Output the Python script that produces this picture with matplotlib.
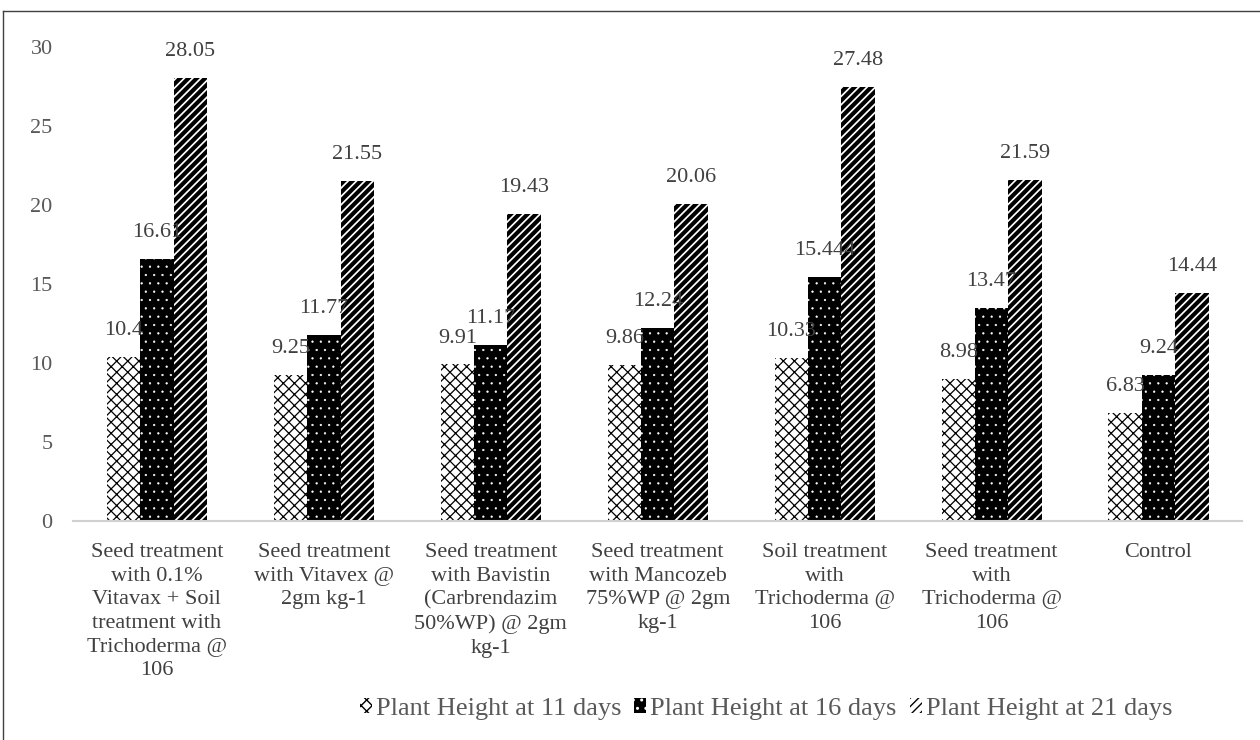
import numpy as np
import matplotlib
matplotlib.use("Agg")
import matplotlib.pyplot as plt
from matplotlib.lines import Line2D

plt.rcParams['font.family'] = ['Liberation Serif', 'DejaVu Serif']

categories = [
    "Seed treatment\nwith 0.1%\nVitavax + Soil\ntreatment with\nTrichoderma @\n106",
    "Seed treatment\nwith Vitavex @\n2gm kg-1",
    "Seed treatment\nwith Bavistin\n(Carbrendazim\n50%WP) @ 2gm\nkg-1",
    "Seed treatment\nwith Mancozeb\n75%WP @ 2gm\nkg-1",
    "Soil treatment\nwith\nTrichoderma @\n106",
    "Seed treatment\nwith\nTrichoderma @\n106",
    "Control",
]
h11 = [10.4, 9.25, 9.91, 9.86, 10.33, 8.98, 6.83]
h16 = [16.61, 11.77, 11.17, 12.24, 15.444, 13.47, 9.24]
h21 = [28.05, 21.55, 19.43, 20.06, 27.48, 21.59, 14.44]
labels11 = ["10.4", "9.25", "9.91", "9.86", "10.33", "8.98", "6.83"]
labels16 = ["16.61", "11.77", "11.17", "12.24", "15.444", "13.47", "9.24"]
labels21 = ["28.05", "21.55", "19.43", "20.06", "27.48", "21.59", "14.44"]
series_names = ["Plant Height at 11 days", "Plant Height at 16 days", "Plant Height at 21 days"]

fig = plt.figure(figsize=(12.6, 7.4), dpi=100)
ax = fig.add_axes([0.0583, 0.2959, 0.9274, 0.6406])

x = np.arange(len(categories))
w = 0.2
txt = '#404040'


def hbar(xs, ys, hatch, fc, ec, lw):
    with plt.rc_context({'hatch.linewidth': lw, 'hatch.color': ec}):
        bars = ax.bar(xs, ys, w, color=fc, edgecolor=ec, linewidth=0, hatch=hatch)
    for b in bars:
        if hasattr(b, 'set_hatch_linewidth'):
            b.set_hatch_linewidth(lw)
    return bars


b1 = hbar(x - w, h11, 'xxx', 'white', 'black', 0.9)
b2 = hbar(x, h16, '..', 'black', 'white', 0.4)
b3 = hbar(x + w, h21, '////', 'white', 'black', 3.0)

for bars, labs in [(b1, labels11), (b2, labels16), (b3, labels21)]:
    for b, lab in zip(bars, labs):
        ax.annotate(lab, (b.get_x() + b.get_width() / 2, b.get_height()),
                    xytext=(0, 19), textcoords='offset points',
                    ha='center', va='center', fontsize=16, color=txt)

ax.set_ylim(0, 30)
ax.set_xlim(-0.5, len(categories) - 0.5)
ax.set_yticks(range(0, 31, 5))
ax.set_xticks(x)
ax.set_xticklabels(categories, fontsize=16, color=txt, linespacing=1.33)
ax.tick_params(axis='y', length=0, labelsize=16, labelcolor='#595959', pad=15)
ax.tick_params(axis='x', length=0, pad=16)
for s in ['top', 'right', 'left']:
    ax.spines[s].set_visible(False)
ax.spines['bottom'].set_color('#d0d0d0')
ax.spines['bottom'].set_linewidth(1.5)

leg = fig.legend([b1[0], b2[0], b3[0]], series_names, loc='center',
                 bbox_to_anchor=(0.608, 0.042), ncol=3, frameon=False,
                 fontsize=19, handlelength=0.45, handleheight=0.45,
                 handletextpad=0.15, columnspacing=0.5, labelcolor='#595959')

# frame left and top edges of the chart box
fig.add_artist(Line2D([3 / 1260, 3 / 1260], [0, 1 - 11 / 740], transform=fig.transFigure,
                      color='#404040', linewidth=1))
fig.add_artist(Line2D([3 / 1260, 1], [1 - 11 / 740, 1 - 11 / 740], transform=fig.transFigure,
                      color='#404040', linewidth=1))

fig.savefig("out.png", dpi=100)
